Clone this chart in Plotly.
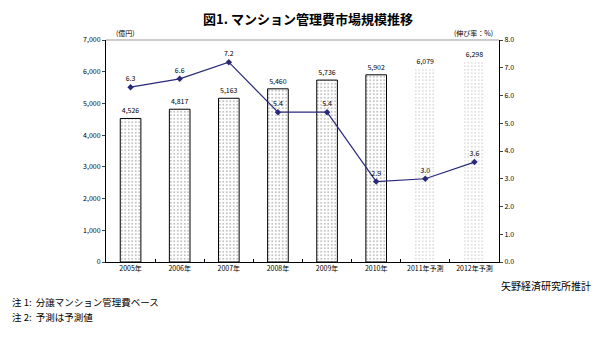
import plotly.graph_objects as go

categories = ["2005年", "2006年", "2007年", "2008年", "2009年", "2010年", "2011年予測", "2012年予測"]
market_size = [4526, 4817, 5163, 5460, 5736, 5902, 6079, 6298]
growth_rate = [6.3, 6.6, 7.2, 5.4, 5.4, 2.9, 3.0, 3.6]
forecast = [False, False, False, False, False, False, True, True]
notes = ["注 1:  分譲マンション管理費ベース", "注 2:  予測は予測値"]

FONT = "Noto Sans CJK JP"

fig = go.Figure()

fig.add_trace(go.Bar(
    x=categories, y=market_size,
    width=0.42,
    marker=dict(
        color="white",
        line=dict(color=["rgba(0,0,0,0)" if f else "black" for f in forecast], width=1),
        pattern=dict(shape=".", fgcolor=["#b0b0b0" if f else "#6a6a6a" for f in forecast],
                     bgcolor="white", size=3.5, solidity=0.22),
    ),
    text=[f"{v:,}" for v in market_size],
    textposition="outside",
    textfont=dict(size=7, color="black", family=FONT),
    cliponaxis=False,
    showlegend=False,
))

fig.add_trace(go.Scatter(
    x=categories, y=growth_rate, yaxis="y2",
    mode="lines+markers+text",
    line=dict(color="#2a2a7a", width=1.2),
    marker=dict(symbol="diamond", size=5, color="#2a2a7a"),
    text=[f"{v:.1f}" for v in growth_rate],
    textposition="top center",
    textfont=dict(size=7, color="black", family=FONT),
    cliponaxis=False,
    showlegend=False,
))

note_annotations = [
    dict(text=t, xref="paper", yref="paper", x=-0.245, y=-0.18 - 0.066 * i,
         xanchor="left", yanchor="middle", align="left", showarrow=False,
         font=dict(size=9.5))
    for i, t in enumerate(notes)
]

fig.update_layout(
    width=600, height=357,
    margin=dict(l=98, r=109, t=32, b=103),
    paper_bgcolor="white", plot_bgcolor="white",
    font=dict(family=FONT, size=7, color="black"),
    bargap=0.5,
    title=dict(text="<b>図1. マンション管理費市場規模推移</b>", x=0.5, xanchor="center",
               y=0.98, yanchor="top", font=dict(size=13, family=FONT, color="black")),
    xaxis=dict(showline=True, linecolor="black", linewidth=1, ticks="inside", ticklen=3,
               tickson="boundaries", tickcolor="black", showgrid=False,
               tickfont=dict(size=7), range=[-0.5, 7.5]),
    yaxis=dict(range=[0, 7000], dtick=1000, tickformat=",d", showline=True, linecolor="black",
               linewidth=1, ticks="outside", ticklen=3, showgrid=False, zeroline=False,
               tickfont=dict(size=7)),
    yaxis2=dict(range=[0, 8], dtick=1, tickformat=".1f", overlaying="y", side="right",
                showline=True, linecolor="black", linewidth=1, ticks="outside", ticklen=3,
                showgrid=False, zeroline=False, tickfont=dict(size=7)),
    shapes=[dict(type="line", xref="paper", yref="paper", x0=0, x1=1, y0=1, y1=1,
                 line=dict(color="#999999", width=1))],
    annotations=[
        dict(text="(億円)", xref="paper", yref="paper", x=0.02, y=1.0, xanchor="left",
             yanchor="bottom", showarrow=False, font=dict(size=7)),
        dict(text="(伸び率：%)", xref="paper", yref="paper", x=0.99, y=1.0, xanchor="right",
             yanchor="bottom", showarrow=False, font=dict(size=7)),
        dict(text="矢野経済研究所推計", xref="paper", yref="paper", x=1.24, y=-0.065,
             xanchor="right", yanchor="top", showarrow=False, font=dict(size=10)),
    ] + note_annotations,
)

fig.write_html("out.html")
